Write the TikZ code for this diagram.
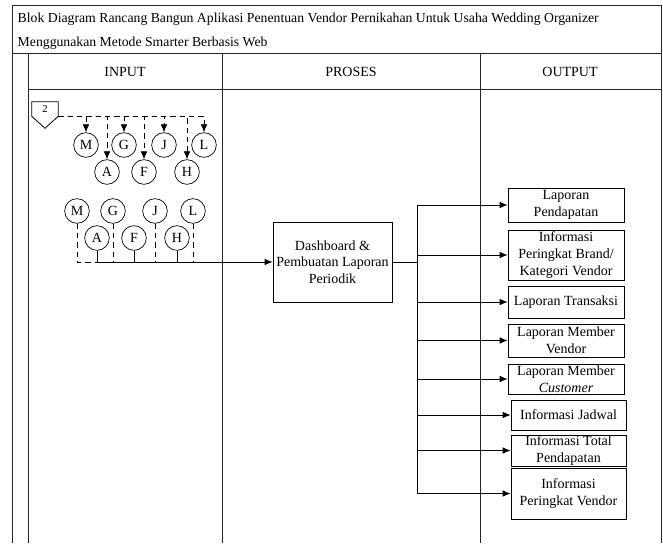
\documentclass[tikz,border=0pt]{standalone}
\usepackage{fontspec}
\setmainfont{Liberation Serif}
\usetikzlibrary{arrows.meta}

\begin{document}
\begin{tikzpicture}[x=0.75pt, y=-0.75pt,
		every node/.style={font=\fontsize{10.5}{12.5}\selectfont},
		frame/.style={line width=0.7pt, black!85},
		judul/.style={anchor=west, font=\fontsize{10.3}{12}\selectfont},
		huruf/.style={draw, circle, minimum size=18.5pt, inner sep=0pt, line width=0.5pt},
		kotak/.style={draw, rectangle, align=center, inner sep=1pt, line width=0.6pt},
		panah/.style={-{Latex[length=6pt,width=5pt]}, line width=0.6pt},
		putus/.style={dashed, dash pattern=on 4pt off 3pt, line width=0.6pt}]
				\useasboundingbox (0,0) rectangle (663,543);
				% tabel
				\draw[frame] (12,543) -- (12,5) -- (661,5) -- (661,543);
				\draw[frame] (12,53) -- (661,53);
				\draw[frame] (28,89) -- (661,89);
				\draw[frame] (28,53) -- (28,543);
				\draw[frame] (222,53) -- (222,543);
				\draw[frame] (480,53) -- (480,543);
				\node[judul] (J1)at(13, 19) {Blok Diagram Rancang Bangun Aplikasi Penentuan Vendor Pernikahan Untuk Usaha Wedding Organizer};
				\node[judul] (J2)at(13, 43) {Menggunakan Metode Smarter Berbasis Web};
				\node (IN)at(125, 72) {INPUT};
				\node (PR)at(351, 72) {PROSES};
				\node (OUT)at(570, 72) {OUTPUT};
				% penghubung halaman
				\node[inner sep=0pt, minimum width=19.5pt, minimum height=10.5pt, font=\fontsize{8}{9}\selectfont] (P2)at(45, 109) {2};
				\draw[line width=0.6pt] (P2.south west) -- (P2.north west) -- (P2.north east) -- (P2.south east) -- ([yshift=-9pt]P2.south) -- cycle;
				% input
				\node[huruf] (M1)at(86, 145) {M};
				\node[huruf] (G1)at(124, 145) {G};
				\node[huruf] (J1c)at(164, 145) {J};
				\node[huruf] (L1)at(204, 145) {L};
				\node[huruf] (A1)at(107, 172) {A};
				\node[huruf] (F1)at(144, 172) {F};
				\node[huruf] (H1)at(187, 172) {H};
				\node[huruf] (M2)at(77, 211) {M};
				\node[huruf] (G2)at(113, 211) {G};
				\node[huruf] (J2c)at(155, 211) {J};
				\node[huruf] (L2)at(193, 211) {L};
				\node[huruf] (A2)at(97, 238) {A};
				\node[huruf] (F2)at(134, 238) {F};
				\node[huruf] (H2)at(177, 238) {H};
				\draw[putus, panah] (P2.south east) -| (M1);
				\draw[putus, panah] (P2.south east) -| (A1);
				\draw[putus, panah] (P2.south east) -| (G1);
				\draw[putus, panah] (P2.south east) -| (F1);
				\draw[putus, panah] (P2.south east) -| (J1c);
				\draw[putus, panah] (P2.south east) -| (H1);
				\draw[putus, panah] (P2.south east) -| (L1);
				% proses
				\node[kotak, minimum width=89.25pt, minimum height=60pt] (DASH)at(332.5, 262) {Dashboard \&\\Pembuatan Laporan\\Periodik};
				\draw[putus] (M2) |- (A2 |- DASH.west);
				\draw[panah] (A2) |- (DASH.west);
				\draw[putus] (G2) -- (G2 |- DASH.west);
				\draw[line width=0.6pt] (F2) -- (F2 |- DASH.west);
				\draw[putus] (J2c) -- (J2c |- DASH.west);
				\draw[line width=0.6pt] (H2) -- (H2 |- DASH.west);
				\draw[putus] (L2) -- (L2 |- DASH.west);
				% output
				\node[kotak, minimum width=87pt, minimum height=25.5pt] (O1)at(566, 205) {Laporan\\Pendapatan};
				\node[kotak, minimum width=87pt, minimum height=37.5pt] (O2)at(566, 255) {Informasi\\Peringkat Brand/\\Kategori Vendor};
				\node[kotak, minimum width=87pt, minimum height=24pt] (O3)at(566, 302) {Laporan Transaksi};
				\node[kotak, minimum width=87pt, minimum height=24.75pt, inner sep=0pt] (O4)at(566, 340.5) {Laporan Member\\Vendor};
				\node[kotak, minimum width=87pt, minimum height=22.5pt, inner sep=0pt] (O5)at(566, 379) {Laporan Member\\\textit{Customer}};
				\node[kotak, minimum width=86.25pt, minimum height=22.5pt] (O6)at(568.5, 415) {Informasi Jadwal};
				\node[kotak, minimum width=86.25pt, minimum height=23.25pt, inner sep=0pt] (O7)at(568.5, 450.5) {Informasi Total\\Pendapatan};
				\node[kotak, minimum width=86.25pt, minimum height=38.25pt] (O8)at(568.5, 493.5) {Informasi\\Peringkat Vendor};
				\coordinate (BUS)at(417, 262);
				\draw[line width=0.6pt] (DASH.east) -- (BUS);
				\draw[panah] (BUS) |- (O1.west);
				\draw[panah] (BUS) |- (O2.west);
				\draw[panah] (BUS) |- (O3.west);
				\draw[panah] (BUS) |- (O4.west);
				\draw[panah] (BUS) |- (O5.west);
				\draw[panah] (BUS) |- (O6.west);
				\draw[panah] (BUS) |- (O7.west);
				\draw[panah] (BUS) |- (O8.west);
			\end{tikzpicture}
\end{document}
